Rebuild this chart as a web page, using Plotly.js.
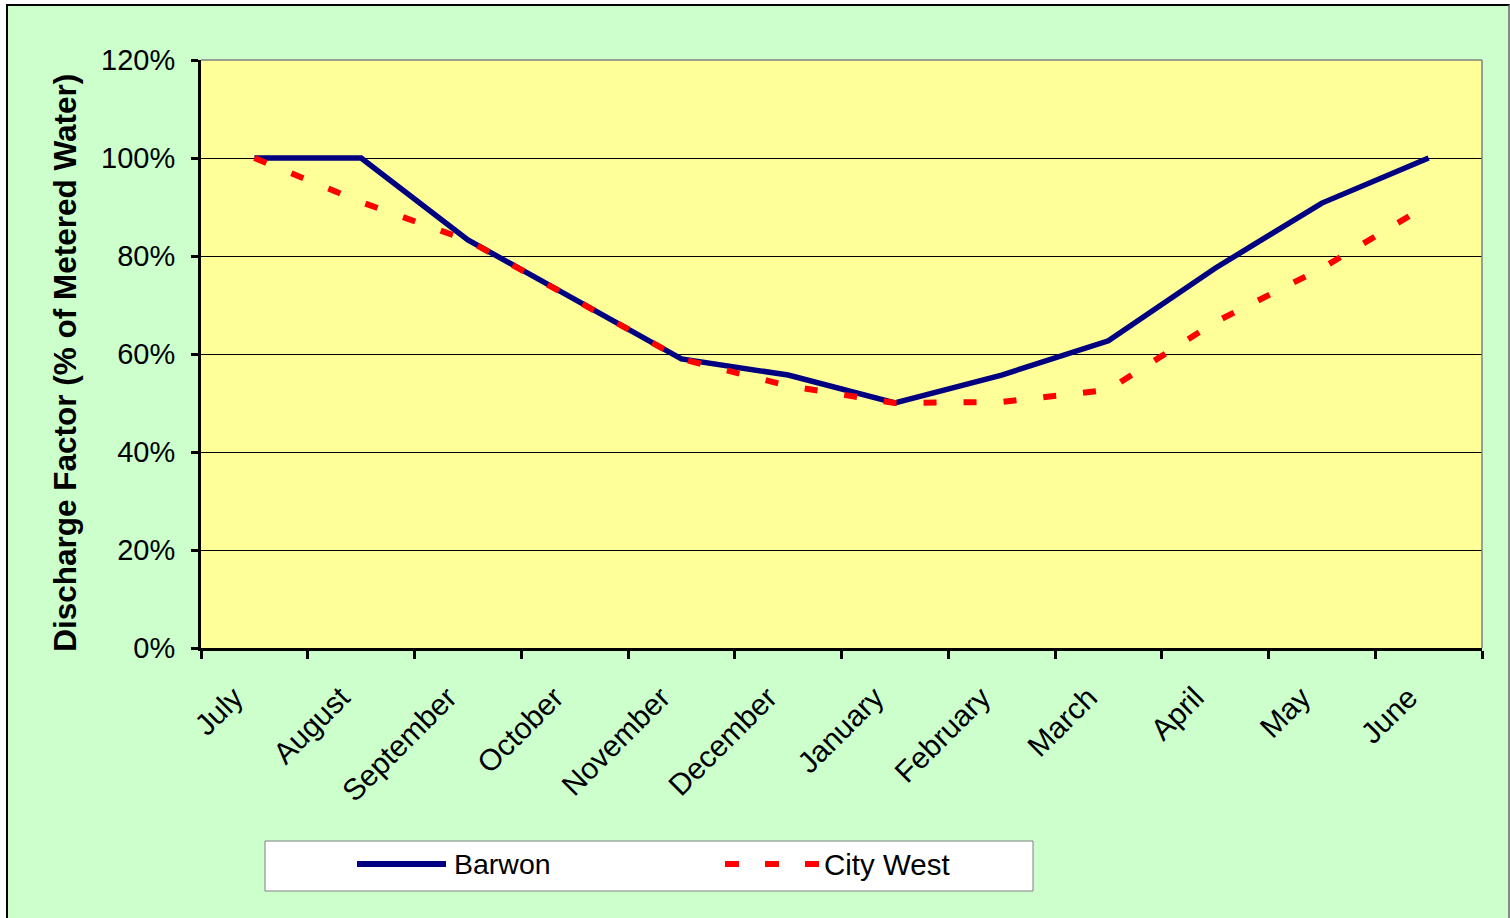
<!DOCTYPE html>
<html>
<head>
<meta charset="utf-8">
<script src="https://cdn.plot.ly/plotly-3.0.1.min.js"></script>
<style>
  html, body { margin: 0; padding: 0; background: #ffffff; overflow: hidden; }
  #wrap { position: absolute; left: 6px; top: 4px; width: 1500px; height: 920px;
          border-left: 2px solid #000; border-top: 2px solid #000; border-right: 2px solid #888;
          background: #CCFFCC; overflow: hidden; }
  #chart { width: 1500px; height: 914px; }
</style>
</head>
<body>
<div id="wrap"><div id="chart"></div></div>
<script>
// ---- Data ----
var months = ["July", "August", "September", "October", "November", "December",
              "January", "February", "March", "April", "May", "June"];
var barwon = [100, 100, 83.3, 71, 59, 55.7, 50, 55.7, 62.7, 77.5, 90.8, 100];
var cityWest = [100, 91, 83.2, 71, 59, 53.5, 50, 50.2, 52.7, 66.5, 77.5, 90.5];
var yTicks = [0, 20, 40, 60, 80, 100, 120];
var yTickText = ["0%", "20%", "40%", "60%", "80%", "100%", "120%"];
var seriesNames = ["Barwon", "City West"];

// ---- Layout geometry ----
var W = 1500, H = 914;
var M = { l: 193, r: 26, t: 54, b: 272 };
var PW = W - M.l - M.r, PH = H - M.t - M.b;
function fx(px) { return (px - M.l) / PW; }
function fy(py) { return (H - M.b - py) / PH; }

var FONT = "Liberation Sans, Arial, sans-serif";
var BLUE = "#000080", RED = "#FF0000";

var traces = [
  { x: months, y: barwon, name: seriesNames[0], type: "scatter", mode: "lines",
    line: { color: BLUE, width: 5.5 }, showlegend: false },
  { x: months, y: cityWest, name: seriesNames[1], type: "scatter", mode: "lines",
    line: { color: RED, width: 6, dash: "13px,27px" }, showlegend: false }
];

// custom legend (box, samples, labels)
var lgY = 858;
var shapes = [
  { type: "line", xref: "paper", yref: "paper", x0: 0, x1: 1, y0: 1, y1: 1,
    line: { color: "#808080", width: 1.5 } },
  { type: "line", xref: "paper", yref: "paper", x0: 1, x1: 1, y0: 0, y1: 1,
    line: { color: "#808080", width: 1.5 } },
  { type: "rect", xref: "paper", yref: "paper", x0: fx(257), x1: fx(1025), y0: fy(835), y1: fy(885),
    fillcolor: "#ffffff", line: { color: "#808080", width: 1 } },
  { type: "line", xref: "paper", yref: "paper", x0: fx(349), x1: fx(438), y0: fy(lgY), y1: fy(lgY),
    line: { color: BLUE, width: 6 } },
  { type: "line", xref: "paper", yref: "paper", x0: fx(717), x1: fx(811), y0: fy(lgY), y1: fy(lgY),
    line: { color: RED, width: 6, dash: "14px,26px" } }
];
var annotations = [
  { xref: "paper", yref: "paper", x: fx(444), y: fy(lgY), xanchor: "left", yanchor: "middle",
    text: seriesNames[0], showarrow: false, font: { family: FONT, size: 28.5, color: "#000" } },
  { xref: "paper", yref: "paper", x: fx(814), y: fy(lgY), xanchor: "left", yanchor: "middle",
    text: seriesNames[1], showarrow: false, font: { family: FONT, size: 29.5, color: "#000" } }
];

var layout = {
  width: W, height: H,
  margin: M,
  paper_bgcolor: "#CCFFCC",
  plot_bgcolor: "#FFFF99",
  font: { family: FONT, color: "#000" },
  showlegend: false,
  xaxis: {
    type: "category",
    range: [-0.5, 11.5],
    tickson: "boundaries",
    ticks: "outside", ticklen: 8, tickwidth: 3, tickcolor: "#000",
    showline: true, linecolor: "#000", linewidth: 3,
    showgrid: false, zeroline: false,
    tickangle: -45,
    tickfont: { family: FONT, size: 30, color: "#000" },
    ticklabelstandoff: 17,
    ticklabelshift: -20
  },
  yaxis: {
    range: [0, 120],
    tickmode: "array",
    tickvals: yTicks,
    ticktext: yTickText,
    ticks: "outside", ticklen: 7, tickwidth: 3, tickcolor: "#000",
    showline: true, linecolor: "#000", linewidth: 3,
    showgrid: true, gridcolor: "#000", gridwidth: 1,
    zeroline: false,
    tickfont: { family: FONT, size: 29, color: "#000" },
    ticklabelstandoff: 10,
    title: { text: "<b>Discharge Factor (% of Metered Water)&nbsp;&nbsp;</b>",
             font: { family: FONT, size: 31.5, color: "#000" }, standoff: 16 }
  },
  shapes: shapes,
  annotations: annotations
};

Plotly.newPlot("chart", traces, layout, { displayModeBar: false, staticPlot: true });
</script>
</body>
</html>
